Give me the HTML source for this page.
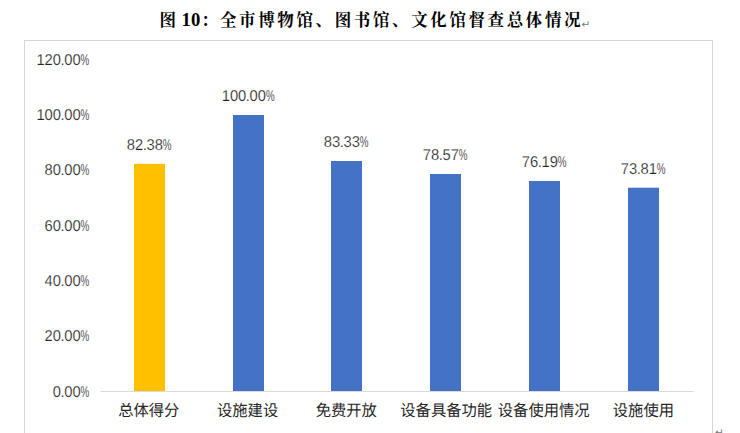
<!DOCTYPE html>
<html lang="zh-CN">
<head>
<meta charset="utf-8">
<title>图 10：全市博物馆、图书馆、文化馆督查总体情况</title>
<style>
html,body{margin:0;padding:0;background:#fff;}
body{width:740px;height:433px;overflow:hidden;position:relative;}
svg{position:absolute;left:0;top:0;display:block;}
.num,.dl{text-rendering:geometricPrecision;stroke:#fff;stroke-width:0.2px;}
.title{font-family:"Liberation Serif","Noto Serif CJK SC",serif;font-weight:bold;font-size:16.5px;fill:#000;}
.tnum{font-family:"Liberation Serif","Noto Serif CJK SC",serif;font-weight:bold;font-size:18.67px;fill:#000;}
.num{font-family:"Liberation Sans","Noto Sans CJK SC",sans-serif;font-size:15.7px;fill:#242424;}
.dl{font-family:"Liberation Sans","Noto Sans CJK SC",sans-serif;font-size:15.7px;fill:#1e1e1e;}
.pm{font-family:"DejaVu Sans",sans-serif;font-size:10.5px;fill:#7a7a7a;}
.cat{font-family:"Liberation Sans","Noto Sans CJK SC",sans-serif;font-size:15.3px;fill:#262626;text-rendering:geometricPrecision;}
</style>
</head>
<body>
<svg width="740" height="433" viewBox="0 0 740 433">
<rect x="0" y="0" width="740" height="433" fill="#ffffff"/>
<rect x="24.5" y="40.5" width="688" height="400" fill="#ffffff" stroke="#d6d6d6" stroke-width="1"/>
<text class="title" y="26"><tspan x="159.5">图</tspan> <tspan class="tnum" x="181.6">10</tspan><tspan x="201.3">：</tspan><tspan x="219.95" style="letter-spacing:2.62px">全市博物馆、图书馆、文化馆督查总体情况</tspan></text>
<text class="pm" x="581.4" y="27.8">↵</text>
<text class="pm" x="715.1" y="436.2">↵</text>
<line x1="100.5" y1="391.5" x2="693.3" y2="391.5" stroke="#d9d9d9" stroke-width="1"/>
<rect x="134" y="163.8" width="31" height="227.2" fill="#FFC000"/>
<rect x="233" y="115" width="31" height="276" fill="#4472C4"/>
<rect x="331" y="161" width="31" height="230" fill="#4472C4"/>
<rect x="430" y="174" width="31" height="217" fill="#4472C4"/>
<rect x="529" y="181" width="31" height="210" fill="#4472C4"/>
<rect x="628" y="187.7" width="31" height="203.3" fill="#4472C4"/>
<text class="num" transform="translate(52.79 397.0) scale(0.940 1)" y="0"><tspan x="-0.02 8.26 12.18 20.87">0.00</tspan><tspan x="29.59" textLength="9.26" lengthAdjust="spacingAndGlyphs">%</tspan></text>
<text class="num" transform="translate(44.62 341.0) scale(0.940 1)" y="0"><tspan x="-0.02 8.67 16.96 20.87 29.57">20.00</tspan><tspan x="38.28" textLength="9.26" lengthAdjust="spacingAndGlyphs">%</tspan></text>
<text class="num" transform="translate(44.62 286.0) scale(0.940 1)" y="0"><tspan x="-0.02 8.67 16.96 20.87 29.57">40.00</tspan><tspan x="38.28" textLength="9.26" lengthAdjust="spacingAndGlyphs">%</tspan></text>
<text class="num" transform="translate(44.62 230.7) scale(0.940 1)" y="0"><tspan x="-0.02 8.67 16.96 20.87 29.57">60.00</tspan><tspan x="38.28" textLength="9.26" lengthAdjust="spacingAndGlyphs">%</tspan></text>
<text class="num" transform="translate(44.62 175.0) scale(0.940 1)" y="0"><tspan x="-0.02 8.67 16.96 20.87 29.57">80.00</tspan><tspan x="38.28" textLength="9.26" lengthAdjust="spacingAndGlyphs">%</tspan></text>
<text class="num" transform="translate(36.45 120.0) scale(0.940 1)" y="0"><tspan x="-0.02 8.67 17.36 25.65 29.57 38.26">100.00</tspan><tspan x="46.97" textLength="9.26" lengthAdjust="spacingAndGlyphs">%</tspan></text>
<text class="num" transform="translate(36.45 65.0) scale(0.940 1)" y="0"><tspan x="-0.02 8.67 17.36 25.65 29.57 38.26">120.00</tspan><tspan x="46.97" textLength="9.26" lengthAdjust="spacingAndGlyphs">%</tspan></text>
<text class="dl" transform="translate(126.86 150.0) scale(0.940 1)" y="0"><tspan x="-0.02 8.67 16.96 20.87 29.57">82.38</tspan><tspan x="38.28" textLength="9.26" lengthAdjust="spacingAndGlyphs">%</tspan></text>
<text class="dl" transform="translate(221.77 101.0) scale(0.940 1)" y="0"><tspan x="-0.02 8.67 17.36 25.65 29.57 38.26">100.00</tspan><tspan x="46.97" textLength="9.26" lengthAdjust="spacingAndGlyphs">%</tspan></text>
<text class="dl" transform="translate(323.86 147.0) scale(0.940 1)" y="0"><tspan x="-0.02 8.67 16.96 20.87 29.57">83.33</tspan><tspan x="38.28" textLength="9.26" lengthAdjust="spacingAndGlyphs">%</tspan></text>
<text class="dl" transform="translate(422.86 160.0) scale(0.940 1)" y="0"><tspan x="-0.02 8.67 16.96 20.87 29.57">78.57</tspan><tspan x="38.28" textLength="9.26" lengthAdjust="spacingAndGlyphs">%</tspan></text>
<text class="dl" transform="translate(521.86 167.0) scale(0.940 1)" y="0"><tspan x="-0.02 8.67 16.96 20.87 29.57">76.19</tspan><tspan x="38.28" textLength="9.26" lengthAdjust="spacingAndGlyphs">%</tspan></text>
<text class="dl" transform="translate(620.86 174.0) scale(0.940 1)" y="0"><tspan x="-0.02 8.67 16.96 20.87 29.57">73.81</tspan><tspan x="38.28" textLength="9.26" lengthAdjust="spacingAndGlyphs">%</tspan></text>
<g transform="translate(0 416.3) scale(1 1.04)">
<text class="cat" text-anchor="middle" x="148.80" y="0">总体得分</text>
<text class="cat" text-anchor="middle" x="247.60" y="0">设施建设</text>
<text class="cat" text-anchor="middle" x="346.30" y="0">免费开放</text>
<text class="cat" text-anchor="middle" x="446.20" y="0">设备具备功能</text>
<text class="cat" text-anchor="middle" x="543.70" y="0">设备使用情况</text>
<text class="cat" text-anchor="middle" x="643.40" y="0">设施使用</text>
</g>
</svg>
</body>
</html>
